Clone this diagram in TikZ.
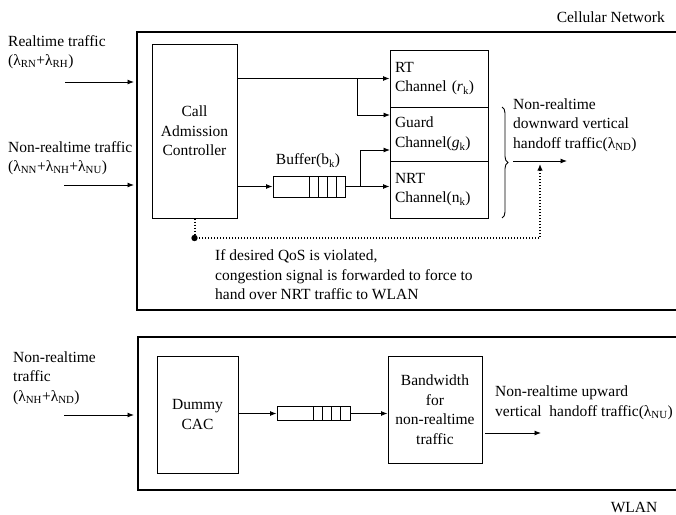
\documentclass[tikz,border=0pt]{standalone}
\usepackage{fontspec}
\setmainfont{Liberation Serif}
\usetikzlibrary{arrows.meta,decorations.pathreplacing}
\newcommand\lam[1]{λ\textsubscript{#1}}
\newcommand\chsub[1]{\textit{#1}\textsubscript{k}}
\begin{document}
\begin{tikzpicture}[x=1pt,y=-1pt,
  every node/.style={font=\fontsize{15.5}{19.5}\selectfont, inner sep=0pt},
  outer/.style={line width=1.3pt},
  blk/.style={draw, line width=1pt, inner sep=0pt},
  chanbox/.style={draw, line width=1pt, minimum width=98pt, align=left, text width=88pt, inner xsep=5pt},
  arr/.style={line width=0.9pt, -{Latex[length=6.5pt,width=5pt]}},
  ln/.style={line width=1pt},
  sig/.style={line width=2pt, dash pattern=on 1.4pt off 1.6pt, -{Latex[length=6.5pt,width=5.5pt]}}]
\useasboundingbox (0,0) rectangle (676,514);
\fill[white] (0,0) rectangle (676,514);

% outer regions
\draw[outer] (680,32) -- (137,32) -- (137,310) -- (680,310);
\draw[outer] (680,337) -- (138,337) -- (138,490) -- (680,490);
\node[anchor=east] (cellnet) at (665,17) {Cellular Network};
\node (wlan) at (634,507) {WLAN};

% cellular part
\node[blk, minimum width=85pt, minimum height=174pt, align=center] (cac) at (194.5,131) {Call\\Admission\\Controller};
\node[chanbox, minimum height=57pt] (rt) at (439,78.5) {RT\\Channel (\chsub{r})};
\node[chanbox, minimum height=54pt] (guard) at (439,134) {Guard\\Channel(\chsub{g})};
\node[chanbox, minimum height=57pt] (nrt) at (439,189.5) {NRT\\Channel(\textrm{n}\textsubscript{k})};

\node[blk, minimum width=72pt, minimum height=21pt] (buf) at (309,186.5) {};
\foreach \xx in {309,318,327,336} \draw[ln] (\xx,176) -- (\xx,197);
\node (buflab) at (308,161) {Buffer(b\textsubscript{k})};

\node[anchor=west, align=left] (rtin) at (8,52) {Realtime traffic\\(\lam{RN}+\lam{RH})};
\node[anchor=west, align=left] (nrtin) at (8,158) {Non-realtime traffic\\(\lam{NN}+\lam{NH}+\lam{NU})};
\coordinate (a1s) at (65,82); \coordinate (a1e) at (134,82);
\coordinate (a2s) at (64,185); \coordinate (a2e) at (134,185);
\draw[arr] (a1s) -- (a1e);
\draw[arr] (a2s) -- (a2e);

\coordinate (j1) at (357,78.5);
\coordinate (g1) at (390,115);
\coordinate (j2) at (360,186.5);
\coordinate (g2) at (390,150);
\draw[arr] (cac.east |- rt.west) -- (rt.west);
\draw[arr] (j1) |- (g1);
\draw[arr] (cac.east |- buf.west) -- (buf.west);
\draw[arr] (buf.east) -- (nrt.west |- buf.east);
\draw[arr] (j2) |- (g2);

\draw[line width=0.9pt, decorate, decoration={brace, amplitude=6pt}] (502,107) -- (502,218);
\node[anchor=west, align=left] (down) at (513,125) {Non-realtime\\downward vertical\\handoff traffic(\lam{ND})};
\coordinate (b1) at (513,161); \coordinate (b2) at (567,161);
\draw[arr] (b1) -- (b2);

\coordinate (dd) at (194.5,238);
\coordinate (up) at (540,164);
\draw[sig] (cac.south) -- (dd) -| (up);
\fill (dd) circle (3.2pt);
\node[anchor=west, align=left] (qos) at (215,275) {If desired QoS is violated,\\congestion signal is forwarded to force to\\hand over NRT traffic to WLAN};

% WLAN part
\node[anchor=west, align=left] (wlin) at (13,378) {Non-realtime\\traffic\\(\lam{NH}+\lam{ND})};
\coordinate (a3s) at (64,415); \coordinate (a3e) at (134,415);
\draw[arr] (a3s) -- (a3e);
\node[blk, minimum width=81pt, minimum height=117pt, align=center] (dcac) at (197.5,414.5) {Dummy\\CAC};
\node[blk, minimum width=73pt, minimum height=14pt] (buf2) at (313.5,413.5) {};
\foreach \xx in {313,322,331,340} \draw[ln] (\xx,406.5) -- (\xx,420.5);
\node[blk, minimum width=94pt, minimum height=107pt, align=center] (bw) at (435,409.5) {Bandwidth\\for\\non-realtime\\traffic};
\draw[arr] (dcac.east |- buf2.west) -- (buf2.west);
\draw[arr] (buf2.east) -- (bw.west |- buf2.east);
\node[anchor=west, align=left] (upl) at (495,403) {Non-realtime upward\\vertical\ \ handoff traffic(\lam{NU})};
\coordinate (o1) at (485,433); \coordinate (o2) at (541,433);
\draw[arr] (o1) -- (o2);
\end{tikzpicture}
\end{document}
